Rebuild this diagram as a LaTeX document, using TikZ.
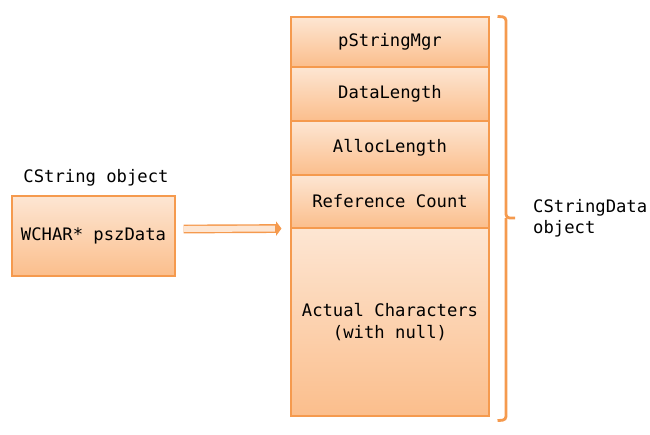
\documentclass[tikz,border=0pt]{standalone}
\usepackage{fontspec}
\setmonofont{DejaVu Sans Mono}
\usepackage{tikz}
\usetikzlibrary{calc}
\usetikzlibrary{arrows.meta}

\definecolor{cellline}{HTML}{F59A4E}
\definecolor{celltop}{HTML}{FDE6D3}
\definecolor{cellbot}{HTML}{FBBE8C}

\tikzset{
	cell/.style={draw=cellline, line width=0.6pt, top color=celltop, bottom color=cellbot, inner sep=0pt, font=\ttfamily\fontsize{9.8}{12}\selectfont, align=center},
	plain/.style={font=\ttfamily\fontsize{9.8}{12}\selectfont, align=left}
}

\begin{document}
\begin{tikzpicture}[x=0.02cm, y=-0.02cm]
			
			\useasboundingbox (0,0) rectangle (650,434);
			
			% CString object
			\node[cell, minimum width=163*0.02cm, minimum height=80*0.02cm] (pszdata) at (93.5,236) {WCHAR* pszData};
			\node[plain] (cstr) at (96,178) {CString object};
			
			% CStringData object
			\node[cell, minimum width=198*0.02cm, minimum height=50*0.02cm] (mgr) at (390,42) {pStringMgr};
			\node[cell, minimum width=198*0.02cm, minimum height=54*0.02cm] (datalen) at (390,94) {DataLength};
			\node[cell, minimum width=198*0.02cm, minimum height=54*0.02cm] (alloclen) at (390,148) {AllocLength};
			\node[cell, minimum width=198*0.02cm, minimum height=53*0.02cm] (refcount) at (390,201.5) {Reference Count};
			\node[cell, minimum width=198*0.02cm, minimum height=188*0.02cm] (chars) at (390,322) {Actual Characters\\(with null)};
			
			\coordinate (tail) at ($(pszdata.east)+(8,-7)$);
			\coordinate (head) at ($(refcount.south west)+(-9,0)$);
			\draw[line width=5pt, cellline, -{Triangle[length=3pt, width=8pt]}] (tail) -- (head);
			\draw[line width=3.4pt, celltop, shorten >=1.5pt] (tail) -- ($(head)+(-4,0)$);
			
			% brace
			\coordinate (btop) at ($(mgr.north east)+(8,0)$);
			\coordinate (bbot) at ($(chars.south east)+(8,4)$);
			\draw[cellline, line width=1.6pt, rounded corners=2pt] (btop) -- (506,17) -- (506,218) -- (515,218);
			\draw[cellline, line width=1.6pt, rounded corners=2pt] (506,218) -- (506,420) -- (bbot);
			\node[plain, anchor=west] (dataobj) at (527,218) {CStringData\\object};
			
\end{tikzpicture}
\end{document}
